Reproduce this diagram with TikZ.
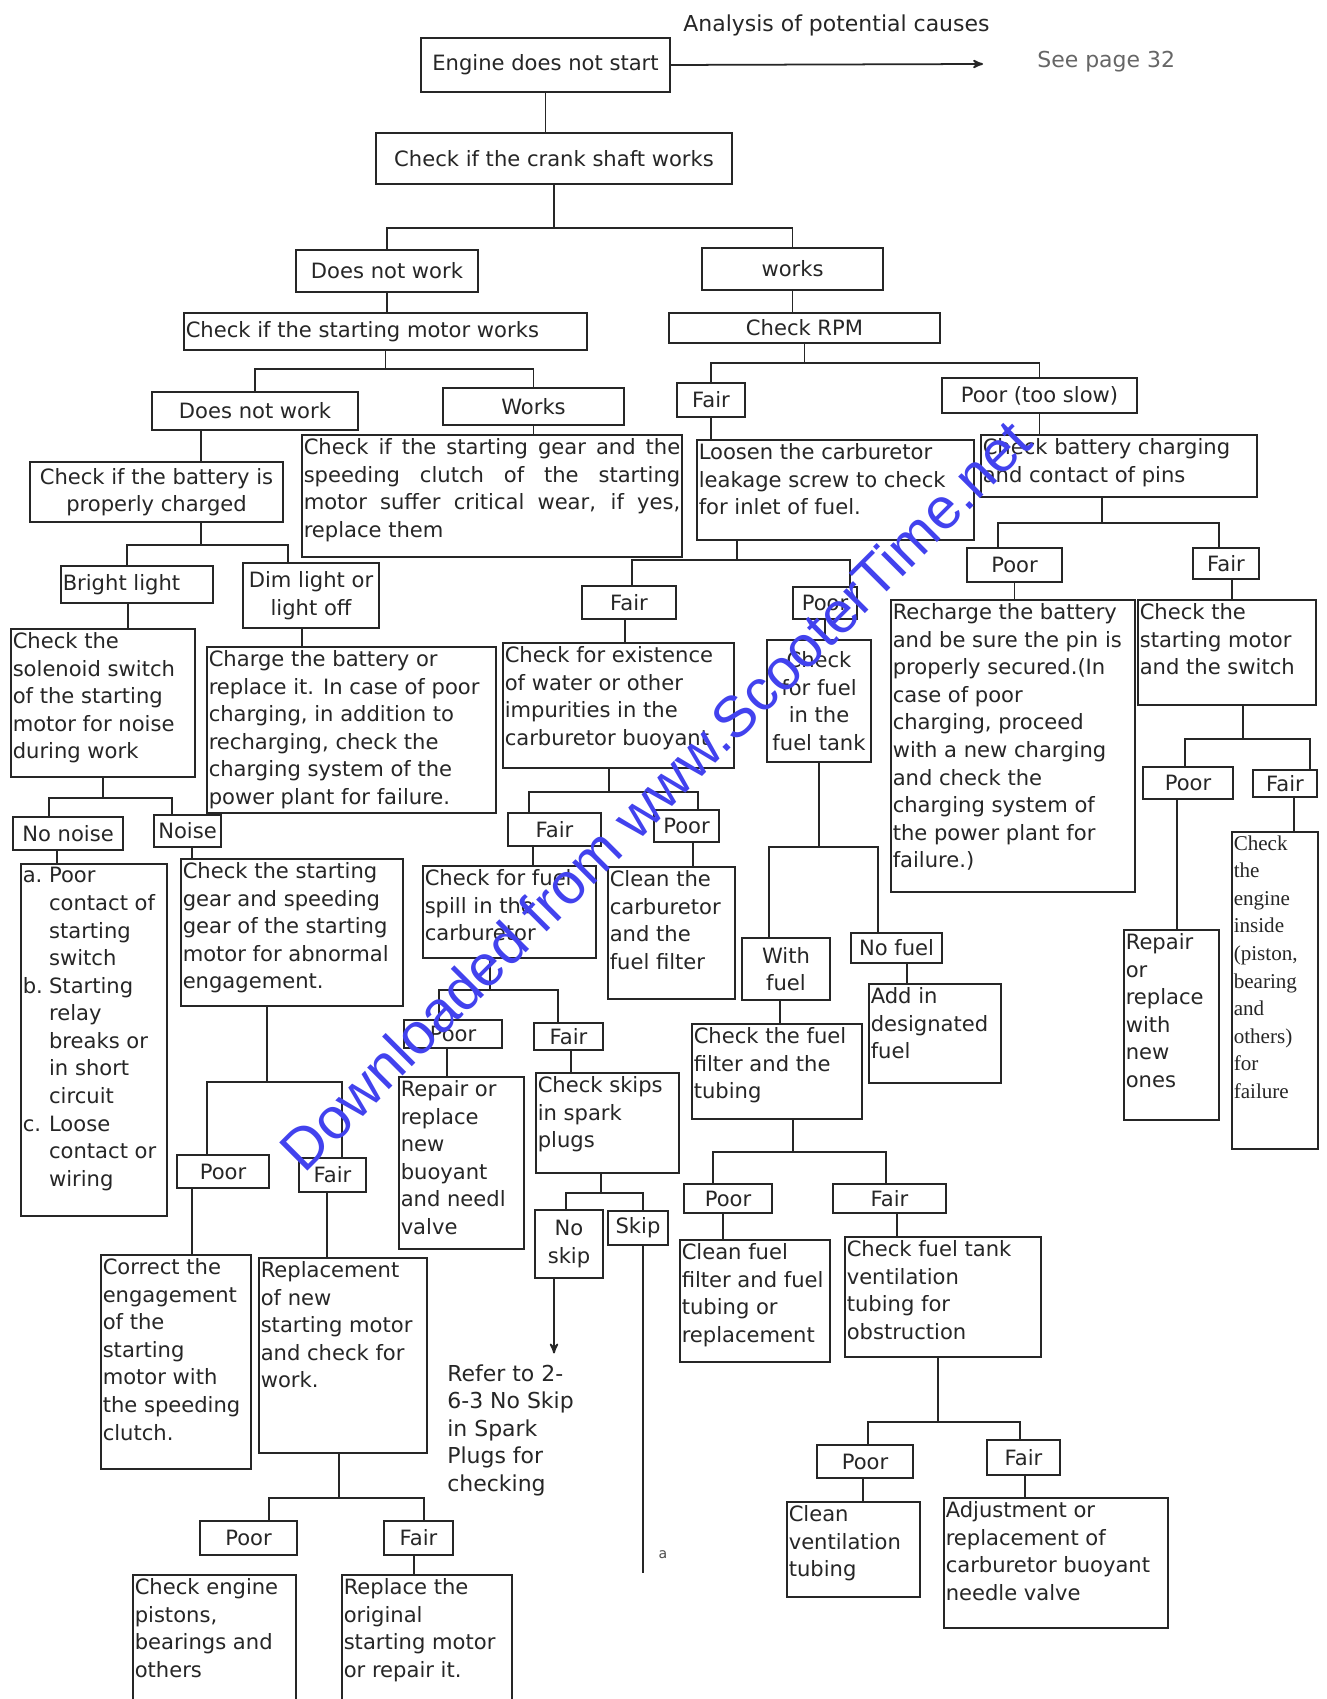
\documentclass[tikz,border=0pt]{standalone}
\usepackage{fontspec}
\setmainfont{DejaVu Sans}
\newfontfamily\serifbox{Liberation Serif}
\newfontfamily\markfont{Liberation Sans}
\usepackage{tikz}
\usetikzlibrary{arrows}
\definecolor{markblue}{RGB}{66,66,238}
\newlength{\pxu}
\setlength{\pxu}{0.02cm}
\newcommand{\boxtext}[3]{\parbox[c][\dimexpr#2\pxu-4pt\relax][t]{\dimexpr#1\pxu-2pt\relax}{\raggedright #3}}
\newcommand{\boxmid}[3]{\parbox[c][\dimexpr#2\pxu-4pt\relax][c]{\dimexpr#1\pxu-2pt\relax}{\centering #3}}
\newcommand{\boxleft}[3]{\parbox[c][\dimexpr#2\pxu-4pt\relax][c]{\dimexpr#1\pxu-2pt\relax}{\raggedright #3}}
\newcommand{\boxjust}[3]{\parbox[c][\dimexpr#2\pxu-4pt\relax][t]{\dimexpr#1\pxu-2pt\relax}{#3}}
\newcommand{\listind}{\hspace*{15pt}}
\tikzset{
    >=stealth',
    box/.style={
        rectangle,
        draw=black!85, line width=1pt,
        anchor=north west,
        inner xsep=1pt, inner ysep=2pt, outer sep=0pt,
        text=black!85,
        font={\fontsize{12pt}{15.7pt}\selectfont}
    },
    link/.style={draw=black!85, line width=1pt},
    note/.style={text=black!85, inner sep=0pt, font={\fontsize{12.5pt}{15.7pt}\selectfont}},
}

\begin{document}
\begin{tikzpicture}[x=0.02cm, y=-0.02cm]
\path[fill=white, use as bounding box] (0,0) rectangle (1327,1699);

\node[note, anchor=west] (analysis) at (683,25) {Analysis of potential causes};
\node[note, anchor=west, text=black!60] (seepage) at (1037,62) {See page 32};
\coordinate (pageend) at (983,64);

\node[box] (engine) at (421,38) {\boxmid{249}{54}{Engine does not start}};
\node[box] (crank) at (376,133) {\boxmid{356}{51}{Check if the crank shaft works}};
\node[box] (dnw1) at (296,250) {\boxmid{182}{42}{Does not work}};
\node[box] (works1) at (702,248) {\boxmid{181}{42}{works}};
\node[box] (motor) at (184,313) {\boxleft{403}{37}{Check if the starting motor works}};
\node[box] (rpm) at (669,313) {\boxmid{271}{30}{Check RPM}};
\node[box] (dnw2) at (152,392) {\boxmid{206}{38}{Does not work}};
\node[box] (works2) at (443,388) {\boxmid{181}{37}{Works}};
\node[box] (fair1) at (677,383) {\boxmid{68}{34}{Fair}};
\node[box] (slow) at (942,378) {\boxmid{195}{35}{Poor (too slow)}};

\node[box] (battery) at (30,462) {\boxmid{253}{60}{Check if the battery is\\properly charged}};
\node[box] (gear) at (302,435) {\boxjust{380}{122}{Check if the starting gear and the\linebreak speeding clutch of the starting\linebreak motor suffer critical wear, if yes,\linebreak replace them}};
\node[box] (loosen) at (697,440) {\boxtext{277}{100}{Loosen the carburetor\\leakage screw to check\\for inlet of fuel.}};
\node[box] (chkbat) at (981,435) {\boxtext{276}{62}{Check battery charging\\and contact of pins}};
\node[box] (bright) at (61,566) {\boxleft{152}{37}{Bright light}};
\node[box] (dim) at (243,563) {\boxmid{136}{65}{Dim light or\\light off}};
\node[box] (fair2) at (582,586) {\boxmid{94}{33}{Fair}};
\node[box] (poor2) at (793,587) {\boxmid{64}{32}{Poor}};
\node[box] (poor3) at (967,548) {\boxmid{95}{34}{Poor}};
\node[box] (fair3) at (1193,548) {\boxmid{66}{31}{Fair}};

\node[box] (solenoid) at (11,629) {\boxtext{184}{148}{Check the\\solenoid switch\\of the starting\\motor for noise\\during work}};
\node[box] (charge) at (207,647) {\boxtext{289}{166}{Charge the battery or\\replace it. In case of poor\\charging, in addition to\\recharging, check the\\charging system of the\\power plant for failure.}};
\node[box] (water) at (503,643) {\boxtext{231}{125}{Check for existence\\of water or other\\impurities in the\\carburetor buoyant}};
\node[box] (tank) at (767,640) {\boxmid{104}{122}{Check\\for fuel\\in the\\fuel tank}};
\node[box] (recharge) at (891,600) {\boxtext{244}{292}{Recharge the battery\\and be sure the pin is\\properly secured.(In\\case of poor\\charging, proceed\\with a new charging\\and check the\\charging system of\\the power plant for\\failure.)}};
\node[box] (stmotor) at (1138,600) {\boxtext{178}{105}{Check the\\starting motor\\and the switch}};
\node[box] (poor4) at (1143,767) {\boxmid{90}{32}{Poor}};
\node[box] (fair4) at (1253,770) {\boxmid{64}{27}{Fair}};
\node[box] (inside) at (1232,832) {\boxtext{86}{317}{\serifbox Check\\the\\engine\\inside\\(piston,\\bearing\\and\\others)\\for\\failure}};
\node[box] (repairnew) at (1124,930) {\boxtext{95}{190}{Repair\\or\\replace\\with\\new\\ones}};

\node[box] (nonoise) at (13,817) {\boxmid{110}{33}{No noise}};
\node[box] (noise) at (154,815) {\boxmid{67}{32}{Noise}};
\node[box] (abc) at (21,864) {\boxtext{146}{352}{\makebox[15pt][l]{a.}Poor\\\listind contact of\\\listind starting\\\listind switch\\\makebox[15pt][l]{b.}Starting\\\listind relay\\\listind breaks or\\\listind in short\\\listind circuit\\\makebox[15pt][l]{c.}Loose\\\listind contact or\\\listind wiring}};
\node[box] (chgear) at (181,859) {\boxtext{222}{147}{Check the starting\\gear and speeding\\gear of the starting\\motor for abnormal\\engagement.}};
\node[box] (fair5) at (508,813) {\boxmid{93}{33}{Fair}};
\node[box] (poor5) at (654,810) {\boxmid{65}{32}{Poor}};
\node[box] (spill) at (423,866) {\boxtext{173}{92}{Check for fuel\\spill in the\\carburetor}};
\node[box] (cleancarb) at (608,867) {\boxtext{127}{132}{Clean the\\carburetor\\and the\\fuel filter}};
\node[box] (withfuel) at (742,938) {\boxmid{88}{62}{With\\fuel}};
\node[box] (nofuel) at (851,933) {\boxmid{91}{30}{No fuel}};
\node[box] (addfuel) at (869,984) {\boxtext{132}{99}{Add in\\designated\\fuel}};

\node[box] (poor6) at (404,1020) {\boxmid{98}{28}{Poor}};
\node[box] (fair6) at (534,1023) {\boxmid{69}{27}{Fair}};
\node[box] (buoyant) at (399,1077) {\boxtext{125}{172}{Repair or\\replace\\new\\buoyant\\and needl\\valve}};
\node[box] (skips) at (536,1073) {\boxtext{143}{100}{Check skips\\in spark\\plugs}};
\node[box] (filter) at (692,1024) {\boxtext{170}{95}{Check the fuel\\filter and the\\tubing}};
\node[box] (poor7) at (177,1155) {\boxmid{92}{33}{Poor}};
\node[box] (fair7) at (299,1158) {\boxmid{67}{34}{Fair}};
\node[box] (noskip) at (535,1210) {\boxmid{68}{68}{No\\skip}};
\node[box] (skip) at (608,1211) {\boxmid{60}{34}{Skip}};
\node[box] (poor8) at (684,1184) {\boxmid{88}{29}{Poor}};
\node[box] (fair8) at (833,1184) {\boxmid{113}{29}{Fair}};

\node[box] (correct) at (101,1255) {\boxtext{150}{214}{Correct the\\engagement\\of the\\starting\\motor with\\the speeding\\clutch.}};
\node[box] (replacement) at (259,1258) {\boxtext{168}{195}{Replacement\\of new\\starting motor\\and check for\\work.}};
\node[note, anchor=north west, align=left] (refer) at (447,1364) {Refer to 2-\\6-3 No Skip\\in Spark\\Plugs for\\checking};
\node[box] (cleanfilter) at (680,1240) {\boxtext{150}{122}{Clean fuel\\filter and fuel\\tubing or\\replacement}};
\node[box] (venttank) at (845,1237) {\boxtext{196}{120}{Check fuel tank\\ventilation\\tubing for\\obstruction}};
\coordinate (skipend) at (643,1573);
\node[text=black!70, font={\fontsize{8pt}{9pt}\selectfont}] (amark) at (663,1555) {a};

\node[box] (poor9) at (200,1521) {\boxmid{97}{34}{Poor}};
\node[box] (fair9) at (384,1521) {\boxmid{69}{34}{Fair}};
\node[box] (poor10) at (817,1445) {\boxmid{96}{33}{Poor}};
\node[box] (fair10) at (987,1440) {\boxmid{73}{35}{Fair}};
\node[box] (cleanvent) at (787,1502) {\boxtext{133}{95}{Clean\\ventilation\\tubing}};
\node[box] (adjust) at (944,1498) {\boxtext{224}{130}{Adjustment or\\replacement of\\carburetor buoyant\\needle valve}};
\node[box] (pistons) at (133,1575) {\boxtext{163}{145}{Check engine\\pistons,\\bearings and\\others}};
\node[box] (origmotor) at (342,1575) {\boxtext{170}{145}{Replace the\\original\\starting motor\\or repair it.}};

% connectors
\draw[link,->] (engine.east) -- (pageend);
\draw[link] (engine.south) -- (engine.south |- crank.north);
\draw[link] (crank.south) -- ++(0,44) -| (dnw1.north);
\draw[link] (crank.south) ++(0,44) -| (works1.north);
\draw[link] (dnw1.south) -- (dnw1.south |- motor.north);
\draw[link] (works1.south) -- (works1.south |- rpm.north);
\draw[link] (motor.south) -- ++(0,19) -| (dnw2.north);
\draw[link] (motor.south) ++(0,19) -| (works2.north);
\draw[link] (rpm.south) -- ++(0,20) -| (fair1.north);
\draw[link] (rpm.south) ++(0,20) -| (slow.north);
\draw[link] (dnw2.south -| 201,0) -- (battery.north -| 201,0);
\draw[link] (works2.south) -- (works2.south |- gear.north);
\draw[link] (fair1.south) -- (fair1.south |- loosen.north);
\draw[link] (slow.south) -- (slow.south |- chkbat.north);
\draw[link] (battery.south -| 201,0) -- ++(0,23) -| (bright.north -| 127,0);
\draw[link] (battery.south -| 201,0) ++(0,23) -| (dim.north -| 288,0);
\draw[link] (bright.south -| 128,0) -- (solenoid.north -| 128,0);
\draw[link] (dim.south -| 302,0) -- (charge.north -| 302,0);
\draw[link] (loosen.south -| 737,0) -- ++(0,20) -| (fair2.north -| 632,0);
\draw[link] (loosen.south -| 737,0) ++(0,20) -| (poor2.north -| 850,0);
\draw[link] (chkbat.south -| 1102,0) -- ++(0,26) -| (poor3.north -| 998,0);
\draw[link] (chkbat.south -| 1102,0) ++(0,26) -| (fair3.north -| 1219,0);
\draw[link] (fair2.south -| 625,0) -- (water.north -| 625,0);
\draw[link] (poor2.south) -- (poor2.south |- tank.north);
\draw[link] (poor3.south) -- (poor3.south |- recharge.north);
\draw[link] (fair3.south -| 1232,0) -- (stmotor.north -| 1232,0);
\draw[link] (solenoid.south) -- ++(0,21) -| (nonoise.north -| 49,0);
\draw[link] (solenoid.south) ++(0,21) -| (noise.north -| 172,0);
\draw[link] (stmotor.south -| 1243,0) -- ++(0,34) -| (poor4.north -| 1185,0);
\draw[link] (stmotor.south -| 1243,0) ++(0,34) -| (fair4.north -| 1310,0);
\draw[link] (poor4.south -| 1177,0) -- (repairnew.north -| 1177,0);
\draw[link] (fair4.south -| 1294,0) -- (inside.north -| 1294,0);
\draw[link] (water.south -| 609,0) -- ++(0,24) -| (fair5.north -| 529,0);
\draw[link] (water.south -| 609,0) ++(0,24) -| (poor5.north -| 698,0);
\draw[link] (tank.south) -- ++(0,85) -| (withfuel.north -| 769,0);
\draw[link] (tank.south) ++(0,85) -| (nofuel.north -| 878,0);
\draw[link] (nonoise.south -| 57,0) -- (abc.north -| 57,0);
\draw[link] (noise.south -| 192,0) -- (chgear.north -| 192,0);
\draw[link] (fair5.south -| 533,0) -- (spill.north -| 533,0);
\draw[link] (poor5.south -| 693,0) -- (cleancarb.north -| 693,0);
\draw[link] (withfuel.south -| 780,0) -- (filter.north -| 780,0);
\draw[link] (nofuel.south -| 907,0) -- (addfuel.north -| 907,0);
\draw[link] (spill.south -| 490,0) -- ++(0,32) -| (poor6.north -| 439,0);
\draw[link] (spill.south -| 490,0) ++(0,32) -| (fair6.north -| 558,0);
\draw[link] (chgear.south -| 267,0) -- ++(0,76) -| (poor7.north -| 207,0);
\draw[link] (chgear.south -| 267,0) ++(0,76) -| (fair7.north -| 342,0);
\draw[link] (poor6.south -| 447,0) -- (buoyant.north -| 447,0);
\draw[link] (fair6.south -| 571,0) -- (skips.north -| 571,0);
\draw[link] (filter.south -| 793,0) -- ++(0,33) -| (poor8.north -| 713,0);
\draw[link] (filter.south -| 793,0) ++(0,33) -| (fair8.north -| 886,0);
\draw[link] (skips.south -| 601,0) -- ++(0,20) -| (noskip.north -| 566,0);
\draw[link] (skips.south -| 601,0) ++(0,20) -| (skip.north -| 643,0);
\draw[link] (poor7.south -| 192,0) -- (correct.north -| 192,0);
\draw[link] (fair7.south -| 327,0) -- (replacement.north -| 327,0);
\draw[link,->,shorten >=6pt] (noskip.south -| 554,0) -- (refer.north -| 554,0);
\draw[link] (skip.south -| 643,0) -- (skipend);
\draw[link] (poor8.south -| 723,0) -- (cleanfilter.north -| 723,0);
\draw[link] (fair8.south -| 897,0) -- (venttank.north -| 897,0);
\draw[link] (replacement.south -| 339,0) -- ++(0,45) -| (poor9.north -| 269,0);
\draw[link] (replacement.south -| 339,0) ++(0,45) -| (fair9.north -| 424,0);
\draw[link] (fair9.south -| 414,0) -- (origmotor.north -| 414,0);
\draw[link] (venttank.south -| 938,0) -- ++(0,65) -| (poor10.north -| 868,0);
\draw[link] (venttank.south -| 938,0) ++(0,65) -| (fair10.north -| 1020,0);
\draw[link] (poor10.south -| 863,0) -- (cleanvent.north -| 863,0);
\draw[link] (fair10.south -| 1025,0) -- (adjust.north -| 1025,0);

\node[rotate=45, text=markblue, inner sep=0pt, font={\markfont\fontsize{33pt}{36pt}\selectfont}] (mark) at (655,795) {Downloaded from www.ScooterTime.net};
\end{tikzpicture}
\end{document}
